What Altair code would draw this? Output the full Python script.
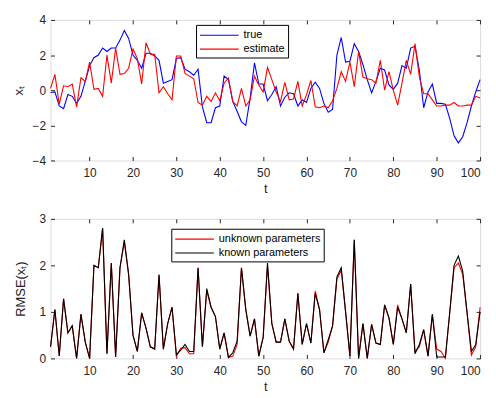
import altair as alt
import pandas as pd

t = list(range(1, 101))

x_true = [-0.13, -0.1, -0.9, -1.05, -0.25, -0.35, -0.75, -0.35, 0.5, 1.4,
          1.85, 2.0, 2.4, 2.2, 2.4, 2.4, 2.85, 3.4, 2.95, 2.0,
          1.7, 1.25, 2.1, 2.1, 1.95, 1.7, 0.4, 0.5, 0.6, 1.8,
          1.85, 1.2, 1.05, 0.85, 1.2, -0.95, -1.85, -1.85, -1.0, -0.9,
          0.8, 0.6, -0.65, -1.2, -1.8, -2.0, -0.45, 1.55, 0.35, 0.35,
          -0.6, -0.25, 0.2, -0.9, -0.4, -0.15, -0.2, -0.9, -0.55, -0.7,
          0.1, 0.45, 0.1, -0.75, -1.25, -1.1, 2.0, 3.0, 1.6, 1.65,
          2.65, 2.2, 1.45, 0.6, -0.15, 0.5, 1.25, 1.15, 0.3, 0.05,
          0.4, 1.4, 1.25, 2.4, 2.5, 1.15, -1.0, -0.1, 0.35, -0.75,
          -0.75, -0.8, -1.6, -2.6, -3.0, -2.65, -1.85, -0.9, -0.1, 0.6]

x_est = [0.1, 0.9, -0.8, 0.25, 0.2, 0.35, -0.95, 0.7, 0.5, 1.6,
         0.05, 0.1, -0.35, 2.0, 0.4, 2.4, 0.9, 0.95, 1.25, 2.35,
         1.8, 0.35, 2.7, 2.05, 2.05, -0.15, 0.2, -0.2, -0.55, 1.95,
         1.95, 0.95, 0.8, 0.65, -0.7, -0.85, -0.35, -0.65, -0.15, -0.6,
         0.4, 0.7, -0.65, -0.9, 0.1, -0.9, -0.55, 0.8, 0.3, -0.1,
         1.3, 0.6, -0.1, -0.65, 0.45, -0.55, -0.5, 0.5, -0.9, -0.25,
         0.55, -0.95, -1.0, -0.9, -1.0, -0.6, 0.1, 1.05, 0.5, 1.6,
         0.2, 2.2, 0.75, 0.65, 0.6, 0.4, 1.7, 0.0, 1.05, 0.0,
         -0.85, 0.4, 1.7, 0.9, 2.65, 0.75, -0.2, -0.2, -0.55, -0.9,
         -0.9, -0.85, -0.85, -0.7, -0.9, -0.9, -0.85, -0.85, -0.35, -0.45]

rmse_known = [0.25, 1.05, 0.05, 1.28, 0.55, 0.7, 0.0, 0.95, 0.35, 0.0,
              2.0, 1.95, 2.8, 0.1, 2.05, 0.03, 1.95, 2.55, 1.8, 0.5,
              0.15, 0.98, 0.65, 0.25, 0.2, 1.8, 0.2, 0.75, 1.1, 0.08,
              0.18, 0.3, 0.15, 0.15, 1.95, 0.25, 1.5, 1.1, 0.9, 0.2,
              0.55, 0.02, 0.12, 0.37, 1.95, 1.05, 0.48, 0.85, 0.05, 0.45,
              2.05, 0.75, 0.35, 0.35, 0.85, 0.37, 0.2, 1.4, 0.3, 0.75,
              0.33, 1.4, 1.05, 0.12, 0.4, 0.7, 1.75, 1.95, 1.0, 0.05,
              2.55, 0.0, 0.75, 0.0, 0.73, 0.33, 0.3, 1.15, 0.87, 0.3,
              1.1, 0.85, 0.55, 1.6, 0.1, 0.3, 0.62, 0.05, 0.95, 0.03,
              0.03, 0.03, 0.98, 2.0, 2.2, 1.87, 0.98, 0.15, 0.3, 1.0]

rmse_unknown = [0.25, 1.05, 0.05, 1.28, 0.55, 0.7, 0.0, 0.95, 0.35, 0.0,
                2.0, 1.95, 2.8, 0.1, 2.05, 0.03, 1.95, 2.5, 1.8, 0.5,
                0.15, 0.98, 0.65, 0.25, 0.2, 1.8, 0.2, 0.75, 1.1, 0.05,
                0.22, 0.23, 0.1, 0.1, 1.95, 0.25, 1.45, 1.1, 0.9, 0.2,
                0.55, 0.02, 0.05, 0.3, 1.95, 1.05, 0.48, 0.85, 0.05, 0.45,
                2.0, 0.75, 0.35, 0.35, 0.85, 0.37, 0.2, 1.4, 0.3, 0.75,
                0.33, 1.45, 1.05, 0.12, 0.35, 0.7, 1.7, 1.9, 1.0, 0.05,
                2.55, 0.0, 0.75, 0.0, 0.73, 0.33, 0.3, 1.15, 0.87, 0.3,
                1.15, 0.85, 0.55, 1.6, 0.15, 0.25, 0.62, 0.05, 0.95, 0.2,
                0.15, 0.0, 0.98, 1.95, 2.05, 1.8, 0.98, 0.07, 0.25, 1.1]

top_names = ["true", "estimate"]
top_colors = ["#0000ff", "#ff0000"]
bot_names = ["unknown parameters", "known parameters"]
bot_colors = ["#ff0000", "#000000"]

x_ticks = [10, 20, 30, 40, 50, 60, 70, 80, 90, 100]
top_y_ticks = [-4, -2, 0, 2, 4]
bot_y_ticks = [0, 1, 2, 3]

top_df = pd.DataFrame({"t": t + t, "value": x_true + x_est,
                       "series": [top_names[0]] * 100 + [top_names[1]] * 100})
bot_df = pd.DataFrame({"t": t + t, "value": rmse_unknown + rmse_known,
                       "series": [bot_names[0]] * 100 + [bot_names[1]] * 100})

W = 434
FONT = "Liberation Sans"
TXT = "#262626"
FS = 12
LFS = 11


def panel(df, names, colors, ydom, yticks, ytitle, H, lx, ly, title_pad):
    xs = alt.Scale(domain=[1, 100], nice=False, zero=False)
    ys = alt.Scale(domain=ydom, nice=False, zero=False)
    base = alt.Chart(df)
    lines = base.mark_line(strokeWidth=1.1).encode(
        x=alt.X("t:Q", scale=xs, axis=alt.Axis(
            orient="bottom", values=x_ticks, title="t", ticks=False, domain=False,
            grid=False, labelPadding=7, titlePadding=4,
            labelFont=FONT, labelFontSize=FS, labelColor=TXT,
            titleFont=FONT, titleFontSize=FS + 1, titleColor=TXT,
            titleFontWeight="normal")),
        y=alt.Y("value:Q", scale=ys, axis=alt.Axis(
            orient="left", values=yticks, title=ytitle, ticks=False, domain=False,
            grid=False, labelPadding=5, titlePadding=title_pad,
            labelFont=FONT, labelFontSize=FS, labelColor=TXT,
            titleFont=FONT, titleFontSize=FS + 1, titleColor=TXT,
            titleFontWeight="normal")),
        color=alt.Color("series:N", sort=names,
                        scale=alt.Scale(domain=names, range=colors),
                        legend=alt.Legend(orient="none", legendX=lx, legendY=ly,
                                          title=None, symbolType="M-1,0H5",
                                          symbolSize=169, symbolStrokeWidth=1.1,
                                          strokeColor="#000000", fillColor="white",
                                          padding=3, labelFontSize=LFS,
                                          labelColor="#000000", labelFont=FONT,
                                          rowPadding=1, labelOffset=30)),
    )
    tick_a = base.mark_line(opacity=0).encode(
        x=alt.X("t:Q", scale=xs, axis=alt.Axis(
            orient="top", offset=-H, values=x_ticks, labels=False, title=None,
            domain=False, grid=False, tickSize=4, tickColor=TXT)),
        y=alt.Y("value:Q", scale=ys, axis=alt.Axis(
            orient="right", offset=-W, values=yticks, labels=False, title=None,
            domain=False, grid=False, tickSize=4, tickColor=TXT)),
    )
    tick_b = base.mark_line(opacity=0).encode(
        x=alt.X("t:Q", scale=xs, axis=alt.Axis(
            orient="bottom", offset=-H, values=x_ticks, labels=False, title=None,
            domain=False, grid=False, tickSize=4, tickColor=TXT)),
        y=alt.Y("value:Q", scale=ys, axis=alt.Axis(
            orient="left", offset=-W, values=yticks, labels=False, title=None,
            domain=False, grid=False, tickSize=4, tickColor=TXT)),
    )
    return alt.layer(lines, tick_a, tick_b).resolve_axis(
        x="independent", y="independent").properties(width=W, height=H)


top = panel(top_df, top_names, top_colors, [-4, 4], top_y_ticks, "xₜ", 142, 147, 5, 7)
bot = panel(bot_df, bot_names, bot_colors, [0, 3], bot_y_ticks, "RMSE(xₜ)", 141, 122, 10, 12)

chart = alt.vconcat(top, bot, spacing=16).resolve_scale(
    color="independent"
).resolve_legend(color="independent").configure_view(
    stroke=TXT, strokeWidth=1
).configure(padding={"left": 3, "top": 3, "right": 5, "bottom": 5})

chart.save("out.html", embed_options={"renderer": "svg", "actions": False})
